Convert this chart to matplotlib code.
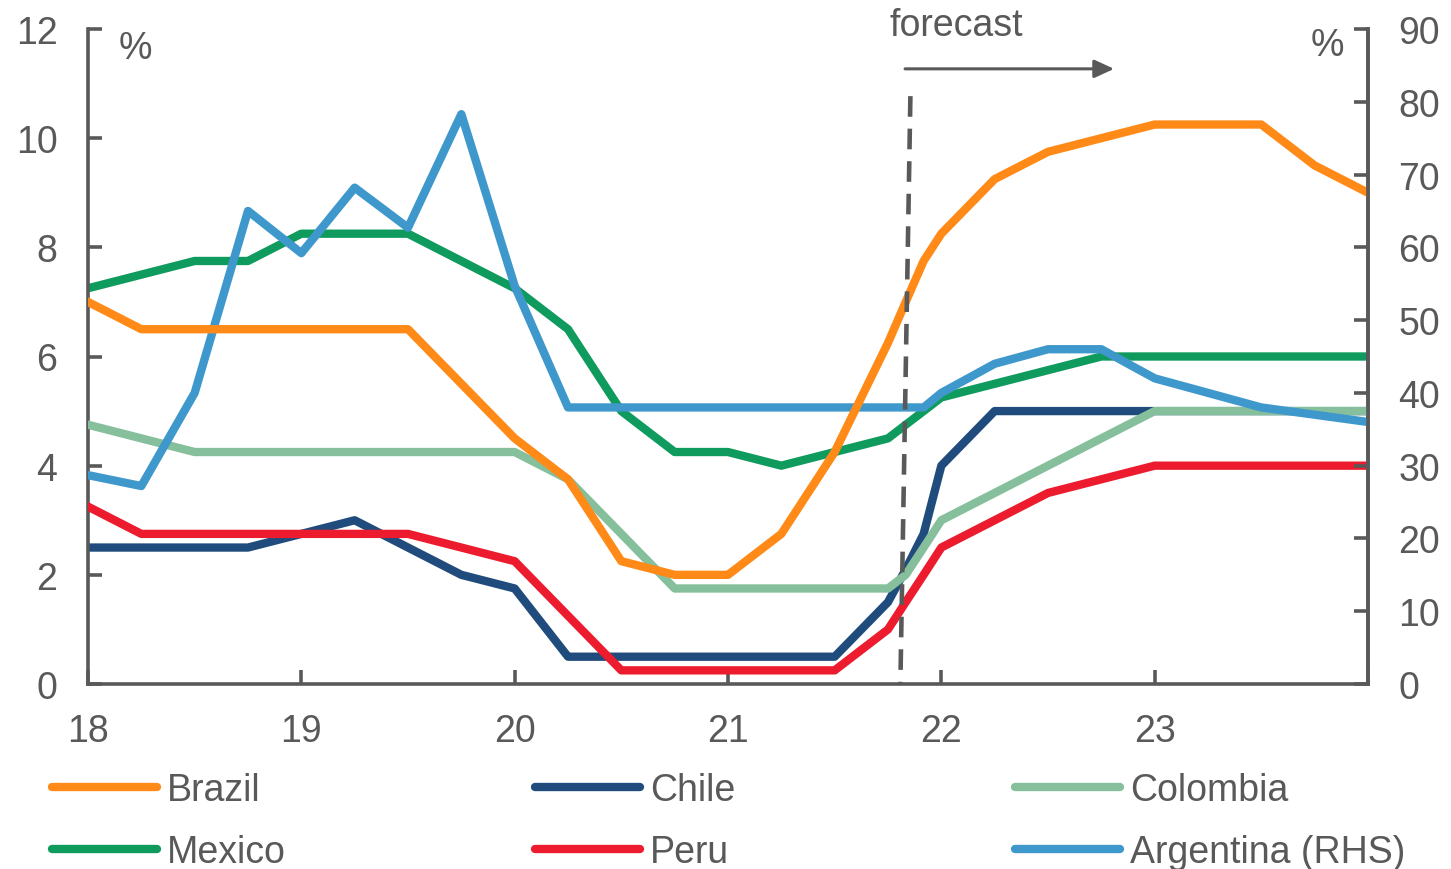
import matplotlib
matplotlib.use("Agg")
import matplotlib.pyplot as plt
from matplotlib.lines import Line2D

plt.rcParams["font.family"] = ["Liberation Sans", "DejaVu Sans"]

# quarterly policy rates, monthly steps through late 2021
x = [18.0, 18.25, 18.5, 18.75, 19.0, 19.25, 19.5, 19.75,
     20.0, 20.25, 20.5, 20.75, 21.0, 21.25, 21.5, 21.75, 21.833, 21.917,
     22.0, 22.25, 22.5, 22.75, 23.0, 23.25, 23.5, 23.75, 24.0]

brazil = [7.0, 6.5, 6.5, 6.5, 6.5, 6.5, 6.5, 5.5,
          4.5, 3.75, 2.25, 2.0, 2.0, 2.75, 4.25, 6.25, 7.0, 7.75,
          8.25, 9.25, 9.75, 10.0, 10.25, 10.25, 10.25, 9.5, 9.0]
chile = [2.5, 2.5, 2.5, 2.5, 2.75, 3.0, 2.5, 2.0,
         1.75, 0.5, 0.5, 0.5, 0.5, 0.5, 0.5, 1.5, 2.1, 2.75,
         4.0, 5.0, 5.0, 5.0, 5.0, 5.0, 5.0, 5.0, 5.0]
colombia = [4.75, 4.5, 4.25, 4.25, 4.25, 4.25, 4.25, 4.25,
            4.25, 3.75, 2.75, 1.75, 1.75, 1.75, 1.75, 1.75, 2.0, 2.5,
            3.0, 3.5, 4.0, 4.5, 5.0, 5.0, 5.0, 5.0, 5.0]
mexico = [7.25, 7.5, 7.75, 7.75, 8.25, 8.25, 8.25, 7.75,
          7.25, 6.5, 5.0, 4.25, 4.25, 4.0, 4.25, 4.5, 4.75, 5.0,
          5.25, 5.5, 5.75, 6.0, 6.0, 6.0, 6.0, 6.0, 6.0]
peru = [3.25, 2.75, 2.75, 2.75, 2.75, 2.75, 2.75, 2.5,
        2.25, 1.25, 0.25, 0.25, 0.25, 0.25, 0.25, 1.0, 1.5, 2.0,
        2.5, 3.0, 3.5, 3.75, 4.0, 4.0, 4.0, 4.0, 4.0]
argentina = [28.7, 27.2, 40.0, 65.0, 59.2, 68.2, 62.7, 78.3,
             54.7, 38.0, 38.0, 38.0, 38.0, 38.0, 38.0, 38.0, 38.0, 38.0,
             40.0, 44.0, 46.0, 46.0, 42.0, 40.0, 38.0, 37.0, 36.0]

year_ticks = [18, 19, 20, 21, 22, 23, 24]
year_labels = ["18", "19", "20", "21", "22", "23", ""]
left_ticks = [0, 2, 4, 6, 8, 10, 12]
right_ticks = [0, 10, 20, 30, 40, 50, 60, 70, 80, 90]

# forecast marker
forecast_top = (21.855, 10.77)
forecast_bottom = (21.808, 0.0)
arrow_start = (21.83, 11.27)
arrow_end = (22.81, 11.27)

GREY = "#595959"
LW = 6.0
FS = 27

fig = plt.figure(figsize=(14.51, 8.70), dpi=100)
ax = fig.add_axes([88 / 1451, 1 - 685 / 870, 1280 / 1451, 655 / 870])
ax2 = ax.twinx()

ax.set_xlim(18, 24)
ax.set_ylim(0, 12)
ax2.set_ylim(0, 90)

ax.plot(x, chile, color="#1F4C7D", lw=LW, zorder=2, label="Chile")
ax.plot(x, mexico, color="#0F9A5E", lw=LW, zorder=2.5, label="Mexico")
ax.plot(x, colombia, color="#86BF9C", lw=LW, zorder=3, label="Colombia")
ax.plot(x, peru, color="#EC1C2E", lw=LW, zorder=3.5, label="Peru")
# Argentina goes on the right-hand scale but is layered with the others
ax.plot(x, argentina, color="#3F98CB", lw=LW, zorder=4,
        transform=ax2.transData, label="Argentina (RHS)")
ax.plot(x, brazil, color="#FF8A17", lw=LW, zorder=5, label="Brazil")

ax.plot([forecast_top[0], forecast_bottom[0]], [forecast_top[1], forecast_bottom[1]],
        color=GREY, lw=3.3, ls=(0, (4.5, 2.6)), zorder=6, clip_on=False)
ax.annotate("", xy=arrow_end, xytext=arrow_start,
            arrowprops=dict(arrowstyle="-|>,head_length=1.2,head_width=0.55",
                            color=GREY, lw=2.2, shrinkA=0, shrinkB=0),
            annotation_clip=False, zorder=6)
ax.text(22.07, 12.08, "forecast", ha="center", va="center", fontsize=FS,
        color=GREY, clip_on=False)
ax.text(18.22, 11.66, "%", ha="center", va="center", fontsize=FS, color=GREY)
ax.text(23.81, 11.7, "%", ha="center", va="center", fontsize=FS, color=GREY)

for a in (ax, ax2):
    for s in a.spines.values():
        s.set_color(GREY)
        s.set_linewidth(2.6)
    a.spines["top"].set_visible(False)
    a.tick_params(direction="in", length=10, width=2.6, color=GREY,
                  labelcolor=GREY, labelsize=FS, pad=22)
ax2.spines["left"].set_visible(False)
ax2.spines["bottom"].set_visible(False)

ax.set_xticks(year_ticks)
ax.set_xticklabels(year_labels)
ax.set_yticks(left_ticks)
ax2.set_yticks(right_ticks)
ax.tick_params(axis="x", pad=21)

# legend: three columns of two rows
handles = {l.get_label(): l for l in ax.get_lines()}
columns = [(["Brazil", "Mexico"], 52), (["Chile", "Peru"], 535),
           (["Colombia", "Argentina (RHS)"], 1015)]
for names, px in columns:
    hs = [Line2D([], [], color=handles[n].get_color(), lw=LW,
                 solid_capstyle="round") for n in names]
    leg = fig.legend(hs, names, loc="upper left",
                     bbox_to_anchor=(px / 1451, 1 - 773 / 870),
                     frameon=False, fontsize=FS, handlelength=2.8,
                     handletextpad=0.27, labelspacing=0.7,
                     borderpad=0, borderaxespad=0)
    for t in leg.get_texts():
        t.set_color(GREY)

fig.savefig("out.png", dpi=100)
